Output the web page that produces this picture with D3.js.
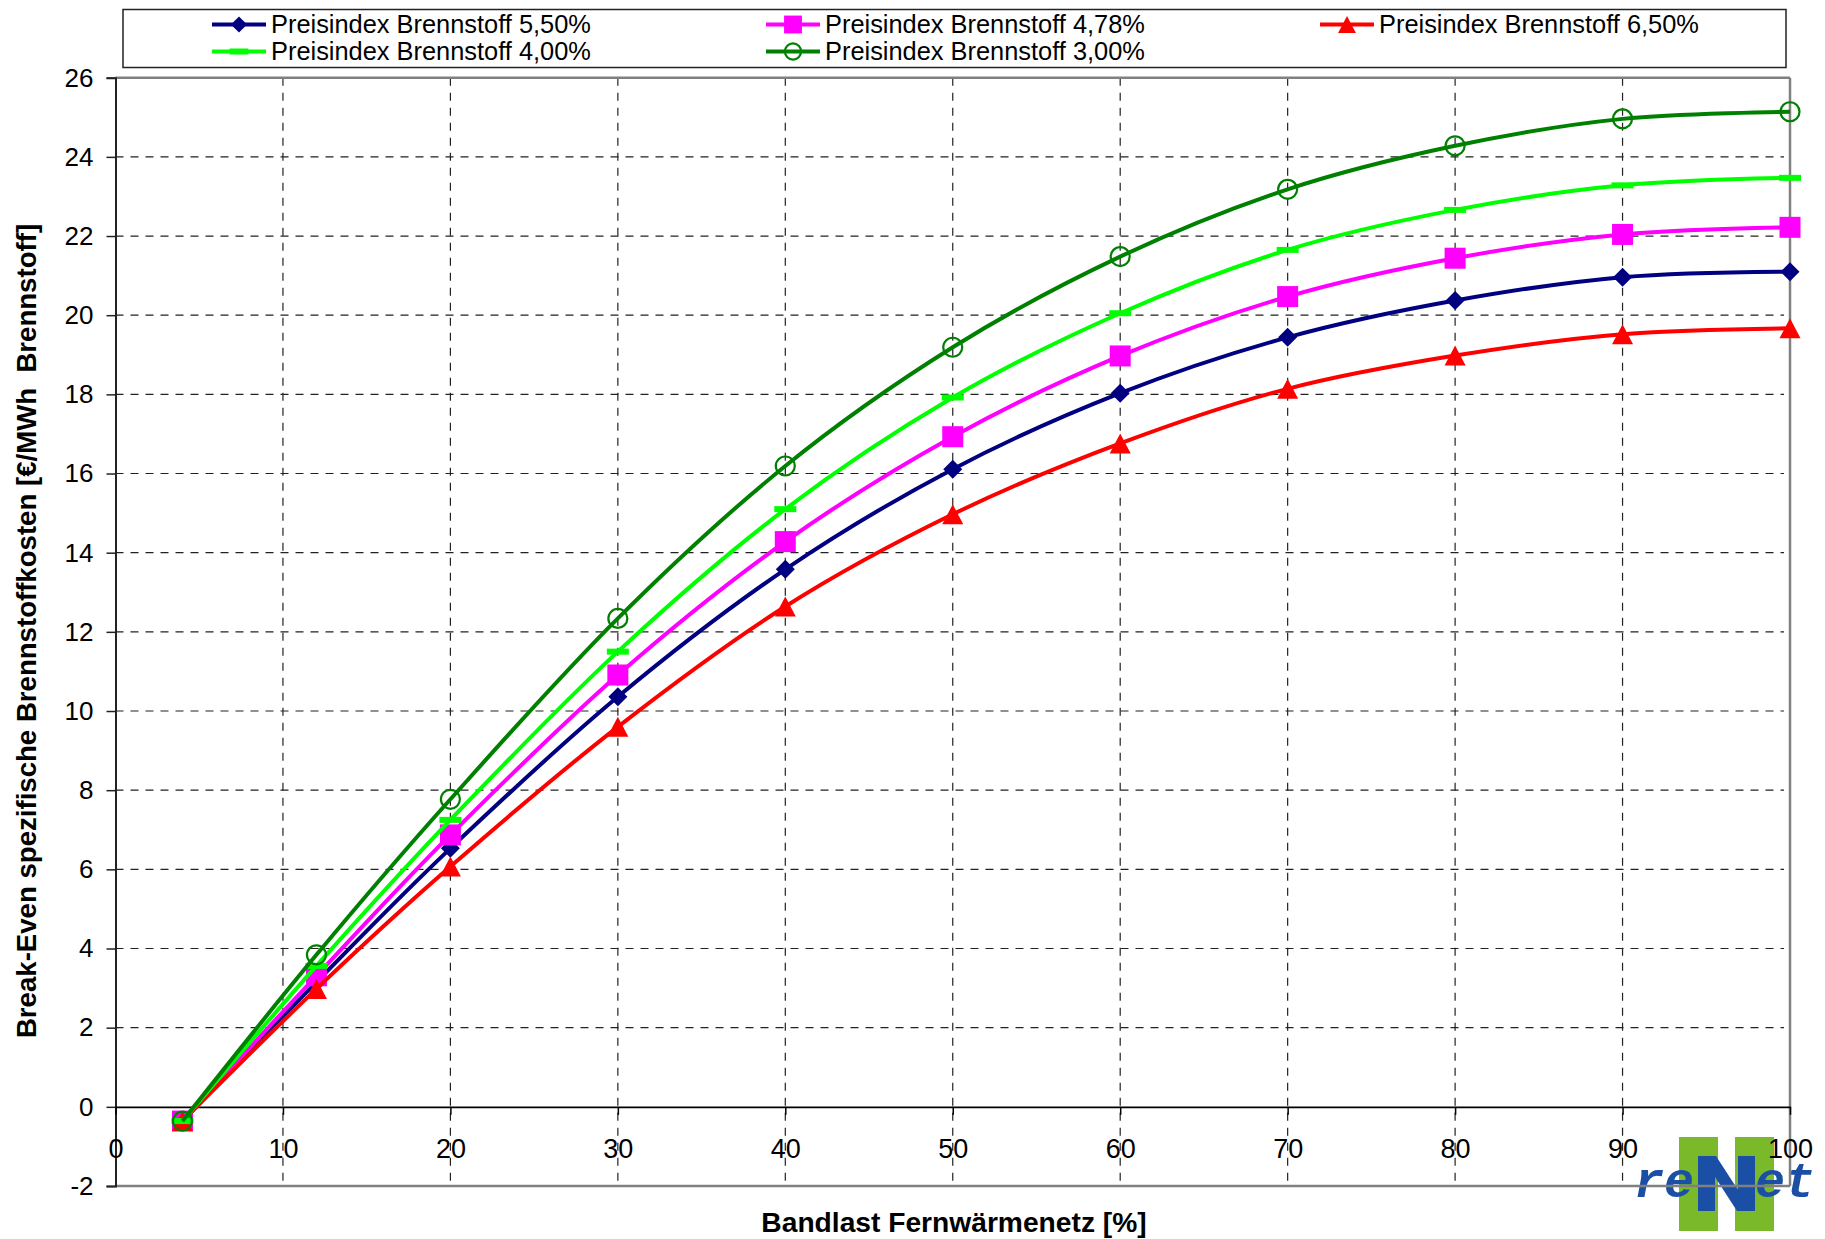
<!DOCTYPE html>
<html>
<head>
<meta charset="utf-8">
<script src="https://cdn.jsdelivr.net/npm/d3@7"></script>
<style>
  html, body { margin: 0; padding: 0; background: #fff; }
  svg { display: block; }
  text { font-family: "Liberation Sans", Arial, sans-serif; white-space: pre; }
</style>
</head>
<body>
<svg id="chart" width="1825" height="1239"></svg>
<script>
// Bandlast des Fernwärmenetzes [%]
const bandlast = [4, 12, 20, 30, 40, 50, 60, 70, 80, 90, 100];

// Break-Even spezifische Brennstoffkosten [€/MWh Brennstoff] je Preisindex
const preis550 = [-0.36, 3.15, 6.53, 10.36, 13.58, 16.11, 18.03, 19.44, 20.37, 20.96, 21.10];
const preis478 = [-0.36, 3.31, 6.87, 10.91, 14.28, 16.93, 18.97, 20.47, 21.44, 22.04, 22.22];
const preis650 = [-0.36, 2.98, 6.07, 9.60, 12.64, 14.97, 16.76, 18.14, 18.98, 19.52, 19.67];
const preis400 = [-0.36, 3.56, 7.25, 11.50, 15.10, 17.92, 20.05, 21.65, 22.66, 23.28, 23.47];
const preis300 = [-0.36, 3.84, 7.77, 12.34, 16.19, 19.19, 21.48, 23.18, 24.28, 24.96, 25.14];

const seriesNames = [
  "Preisindex Brennstoff 5,50%",
  "Preisindex Brennstoff 4,78%",
  "Preisindex Brennstoff 6,50%",
  "Preisindex Brennstoff 4,00%",
  "Preisindex Brennstoff 3,00%"
];

const xTicks = [0, 10, 20, 30, 40, 50, 60, 70, 80, 90, 100];
const yTicks = [-2, 0, 2, 4, 6, 8, 10, 12, 14, 16, 18, 20, 22, 24, 26];

const xTitle = "Bandlast Fernwärmenetz [%]";
const yTitle = "Break-Even spezifische Brennstoffkosten [€/MWh  Brennstoff]";

const series = [
  { name: seriesNames[0], values: preis550, color: "#000080", marker: "diamond" },
  { name: seriesNames[1], values: preis478, color: "#FF00FF", marker: "square" },
  { name: seriesNames[2], values: preis650, color: "#FF0000", marker: "triangle" },
  { name: seriesNames[3], values: preis400, color: "#00FF00", marker: "dash" },
  { name: seriesNames[4], values: preis300, color: "#008000", marker: "circle" }
];

const svg = d3.select("#chart");

const plot = { left: 115.5, top: 77.7, right: 1790, bottom: 1186 };

const x = d3.scaleLinear().domain([0, 100]).range([plot.left, plot.right]);
const y = d3.scaleLinear().domain([-2, 26]).range([plot.bottom, plot.top]);

// plain hyphen-minus for negative tick values
const intFormat = d => String(d);

// ---- reNet logo (sits behind the axes and labels) ----
const logo = svg.append("g").attr("class", "logo");
const lg = "#7AB929", lb = "#1B4FA5";
logo.append("rect").attr("x", 1679).attr("y", 1137).attr("width", 39).attr("height", 94).attr("fill", lg);
logo.append("rect").attr("x", 1735).attr("y", 1137).attr("width", 39).attr("height", 94).attr("fill", lg);
logo.append("path")
  .attr("d", "M1698,1156 L1716,1156 L1738,1190 L1738,1156 L1755,1156 L1755,1211 L1737,1211 L1715,1177 L1715,1211 L1698,1211 Z")
  .attr("fill", lb);
logo.append("text").attr("x", 1634).attr("y", 1197)
  .style("font-family", "'Liberation Mono', 'Courier New', monospace")
  .style("font-weight", "bold").style("font-style", "italic")
  .style("font-size", "50px").attr("fill", lb).text("re");
logo.append("text").attr("x", 1755).attr("y", 1197)
  .style("font-family", "'Liberation Mono', 'Courier New', monospace")
  .style("font-weight", "bold").style("font-style", "italic")
  .style("font-size", "50px").attr("fill", lb).text("et");

// ---- gridlines ----
const grid = svg.append("g").attr("class", "grid");
grid.selectAll("line.h")
  .data(yTicks.filter(v => v !== 0 && v !== -2 && v !== 26))
  .join("line")
  .attr("x1", plot.left).attr("x2", plot.right - 6)
  .attr("y1", d => y(d)).attr("y2", d => y(d))
  .attr("stroke", "#222").attr("stroke-width", 1.2)
  .attr("stroke-dasharray", "8 7");
grid.selectAll("line.v")
  .data(xTicks.filter(v => v !== 0 && v !== 100))
  .join("line")
  .attr("x1", d => x(d)).attr("x2", d => x(d))
  .attr("y1", plot.top).attr("y2", plot.bottom)
  .attr("stroke", "#222").attr("stroke-width", 1.2)
  .attr("stroke-dasharray", "8 7");

// ---- plot frame ----
svg.append("line").attr("x1", plot.left).attr("x2", plot.right)
  .attr("y1", plot.top).attr("y2", plot.top).attr("stroke", "#808080").attr("stroke-width", 2.5);
svg.append("line").attr("x1", plot.right).attr("x2", plot.right)
  .attr("y1", plot.top).attr("y2", plot.bottom).attr("stroke", "#808080").attr("stroke-width", 2.5);
svg.append("line").attr("x1", plot.left).attr("x2", plot.right)
  .attr("y1", plot.bottom).attr("y2", plot.bottom).attr("stroke", "#808080").attr("stroke-width", 2.5);

// ---- y axis ----
const yAxis = d3.axisLeft(y).tickValues(yTicks).tickSize(9).tickPadding(13).tickFormat(intFormat);
const yg = svg.append("g").attr("transform", `translate(${plot.left},0)`).call(yAxis);
yg.select(".domain").attr("stroke", "#222").attr("stroke-width", 2);
yg.selectAll(".tick line").attr("stroke", "#222").attr("stroke-width", 1.5);
yg.selectAll(".tick text")
  .style("font-family", "'Liberation Sans', Arial, sans-serif")
  .style("font-size", "26px").attr("fill", "#000");

// ---- x axis along the zero line ----
const xAxis = d3.axisBottom(x).tickValues(xTicks).tickSize(8).tickPadding(24).tickSizeOuter(0).tickFormat(intFormat);
const xg = svg.append("g").attr("transform", `translate(0,${y(0)})`).call(xAxis);
xg.select(".domain").attr("stroke", "#000").attr("stroke-width", 1.6);
xg.selectAll(".tick line").attr("stroke", "#000").attr("stroke-width", 1.5);
xg.selectAll(".tick text")
  .style("font-family", "'Liberation Sans', Arial, sans-serif")
  .style("font-size", "27px").attr("fill", "#000");

// ---- axis titles ----
svg.append("text")
  .attr("x", 954).attr("y", 1232)
  .attr("text-anchor", "middle")
  .style("font-weight", "bold").style("font-size", "28.2px")
  .text(xTitle);
svg.append("text")
  .attr("transform", "translate(36,631) rotate(-90)")
  .attr("text-anchor", "middle")
  .style("font-weight", "bold").style("font-size", "27.6px")
  .text(yTitle);

// ---- marker drawing ----
function drawMarker(g, type, color, cx, cy, s) {
  const k = s || 1;
  if (type === "diamond") {
    const r = 9.5 * k;
    g.append("path").attr("d", `M${cx},${cy - r}L${cx + r},${cy}L${cx},${cy + r}L${cx - r},${cy}Z`).attr("fill", color);
  } else if (type === "square") {
    const h = 10.5 * k;
    g.append("rect").attr("x", cx - h).attr("y", cy - h).attr("width", 2 * h).attr("height", 2 * h).attr("fill", color);
  } else if (type === "triangle") {
    const w = 10.5 * k, h = 10 * k;
    g.append("path").attr("d", `M${cx},${cy - h}L${cx + w},${cy + h}L${cx - w},${cy + h}Z`).attr("fill", color);
  } else if (type === "dash") {
    g.append("rect").attr("x", cx - 11 * k).attr("y", cy - 3).attr("width", 22 * k).attr("height", 6).attr("fill", color);
  } else if (type === "circle") {
    g.append("circle").attr("cx", cx).attr("cy", cy).attr("r", 9.5 * k)
      .attr("fill", "none").attr("stroke", color).attr("stroke-width", 2.2);
  }
}

// ---- series ----
const line = d3.line()
  .x(d => x(d[0]))
  .y(d => y(d[1]))
  .curve(d3.curveCardinal.tension(0));

series.forEach(s => {
  const pts = bandlast.map((b, i) => [b, s.values[i]]);
  const g = svg.append("g").attr("class", "series");
  g.append("path").datum(pts).attr("d", line)
    .attr("fill", "none").attr("stroke", s.color).attr("stroke-width", 4)
    .attr("stroke-linejoin", "round");
  pts.forEach(p => drawMarker(g, s.marker, s.color, x(p[0]), y(p[1])));
});

// ---- legend ----
const legend = svg.append("g").attr("class", "legend");
legend.append("rect").attr("x", 123).attr("y", 9.5).attr("width", 1663).attr("height", 58)
  .attr("fill", "#fff").attr("stroke", "#222").attr("stroke-width", 1.5);
const legendCols = [212, 766, 1320];
const legendRows = [24.5, 51.5];
series.forEach((s, i) => {
  const col = i % 3, row = Math.floor(i / 3);
  const lx = legendCols[col], ly = legendRows[row];
  const g = legend.append("g");
  g.append("line").attr("x1", lx).attr("x2", lx + 54).attr("y1", ly).attr("y2", ly)
    .attr("stroke", s.color).attr("stroke-width", 4);
  drawMarker(g, s.marker, s.color, lx + 27, ly, 0.85);
  g.append("text").attr("x", lx + 59).attr("y", ly + 8.5)
    .style("font-size", "25.4px").attr("fill", "#000").text(s.name);
});
</script>
</body>
</html>
